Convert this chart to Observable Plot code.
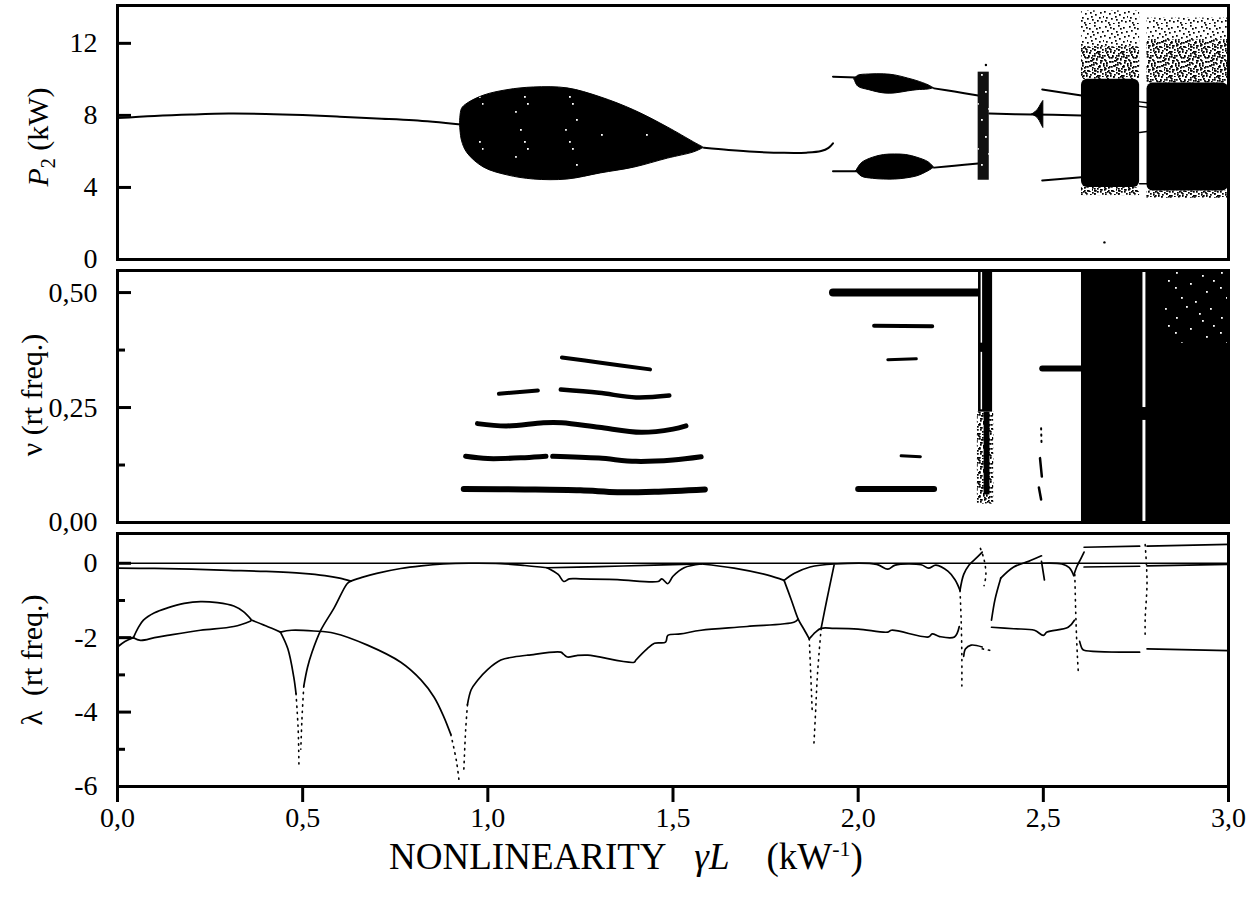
<!DOCTYPE html>
<html><head><meta charset="utf-8">
<script src="https://cdn.jsdelivr.net/npm/d3@7"></script>
<script src="https://cdn.jsdelivr.net/npm/@observablehq/plot@0.6"></script>
<style>
body{margin:0;background:#fff;font-family:"Liberation Serif","Times New Roman",serif;color:#000;}
#wrap{position:relative;width:1253px;height:908px;overflow:hidden;}
.panel{position:absolute;left:0;}
.ylab{position:absolute;transform:translate(-50%,-50%) rotate(-90deg);font-size:30px;white-space:nowrap;line-height:1;}
.xlab{position:absolute;transform:translateX(-50%);font-size:37px;white-space:nowrap;line-height:1;}
</style></head>
<body>
<svg id="defs" width="0" height="0" style="position:absolute;left:0;top:0"><defs></defs></svg>
<div id="wrap">
  <div class="ylab" style="left:40px;top:137px"><i>P</i><sub style="font-size:20px">2</sub>&nbsp;(kW)</div>
  <div class="ylab" style="left:32px;top:395px">ν (rt freq.)</div>
  <div class="ylab" style="left:32px;top:660px">λ&nbsp;&nbsp;(rt freq.)</div>
  <div class="xlab" style="left:626px;top:838px">NONLINEARITY&nbsp;&nbsp;&nbsp;<i>γL</i>&nbsp;&nbsp;&nbsp;&nbsp;(kW<sup style="font-size:22px">-1</sup>)</div>
</div>
<script>
// ---------------- DATA ----------------
const xTicks = [0, 0.5, 1.0, 1.5, 2.0, 2.5, 3.0];
const p2Ticks = [0, 4, 8, 12];
const nuTicks = [0, 0.25, 0.5];
const nuMinor = [0.125, 0.375];
const lamTicks = [0, -2, -4, -6];
const lamMinor = [-1, -3, -5];

// Panel 1: P2 (kW)  [x, P]
const p2Steady = [[0,7.85],[0.1,7.97],[0.2,8.05],[0.3,8.1],[0.4,8.08],[0.5,8.02],[0.6,7.93],[0.7,7.83],[0.8,7.73],[0.927,7.5]];
// [x, low, high]
const p2Blob = [[0.925,7.5,7.5],[0.93,6.6,8.35],[0.945,5.9,8.65],[0.99,5.1,9.1],[1.053,4.67,9.4],[1.125,4.44,9.55],[1.215,4.44,9.5],[1.305,4.78,9.0],[1.395,5.1,8.28],[1.486,5.6,7.33],[1.557,5.95,6.5],[1.584,6.2,6.2]];
const p2Tail = [[1.584,6.2],[1.65,6.08],[1.72,5.98],[1.8,5.92],[1.86,5.93],[1.9,6.02],[1.92,6.2],[1.932,6.45]];
const p2UpperIn = [[1.932,10.15],[1.995,10.1]];
const p2UpperBlob = [[1.99,10.0,10.0],[2.0,9.6,10.2],[2.03,9.4,10.27],[2.07,9.22,10.28],[2.1,9.22,10.22],[2.134,9.33,10.05],[2.16,9.4,9.9],[2.19,9.44,9.67],[2.205,9.5,9.5]];
const p2UpperOut = [[2.205,9.5],[2.26,9.32],[2.324,9.1]];
const p2LowerIn = [[1.932,4.9],[1.995,4.9]];
const p2LowerBlob = [[1.995,4.9,4.9],[2.01,4.6,5.35],[2.04,4.48,5.65],[2.07,4.44,5.8],[2.1,4.44,5.83],[2.13,4.5,5.8],[2.16,4.62,5.65],[2.19,4.9,5.4],[2.205,5.1,5.1]];
const p2LowerOut = [[2.205,5.1],[2.26,5.2],[2.324,5.33]];
const p2Mid = [[2.354,8.1],[2.47,8.05],[2.603,8.0]];
const p2Cusp = [[2.47,8.05,8.05],[2.485,7.85,8.3],[2.495,7.5,8.65],[2.5,7.3,8.8]];
const p2Upper2 = [[2.497,9.44],[2.603,9.1]];
const p2Lower2 = [[2.497,4.39],[2.603,4.56]];
const p2GapLines = [[[2.76,8.75],[2.78,8.7]],[[2.76,8.5],[2.78,8.45]],[[2.76,7.05],[2.78,7.1]],[[2.76,4.2],[2.78,4.2]]];
// chaotic regions [x1, x2, y1, y2]
const p2Band = [[2.324,2.354,4.4,10.4]];
const p2Dense = [[2.603,2.76,4.0,10.0],[2.78,3.0,3.8,9.8]];
const p2Sparse = [[2.603,2.76,10.0,13.8],[2.78,3.0,9.8,13.4],[2.603,2.76,3.55,4.0],[2.78,3.0,3.4,3.8]];
const p2SparseInner = [[2.603,2.76,10.0,11.8],[2.78,3.0,9.8,12.2],[2.603,2.76,3.55,4.0],[2.78,3.0,3.4,3.8]];
const p2BlobHoles = [[0.975,0.99,5.2,9.0],[1.075,1.115,5.0,9.3],[1.21,1.245,5.0,9.3],[1.305,1.315,5.5,8.8],[1.425,1.435,5.6,8.0]];
const p2Stray = [[2.665,0.95],[2.345,10.8]];

// Panel 2: nu (rt freq.)  [x, nu]
const nuBand1 = [[0.935,0.073],[1.1,0.072],[1.25,0.07],[1.35,0.066],[1.45,0.067],[1.586,0.072]];
const nuBand2a = [[0.94,0.144],[1.0,0.139],[1.1,0.141],[1.157,0.144]];
const nuBand2b = [[1.175,0.144],[1.3,0.14],[1.4,0.133],[1.5,0.136],[1.576,0.143]];
const nuBand3 = [[0.972,0.215],[1.05,0.21],[1.15,0.217],[1.2,0.217],[1.3,0.207],[1.414,0.196],[1.5,0.203],[1.535,0.21]];
const nuBand4a = [[1.03,0.28],[1.135,0.287]];
const nuBand4b = [[1.197,0.289],[1.3,0.282],[1.4,0.272],[1.49,0.276]];
const nuBand5 = [[1.2,0.359],[1.3,0.348],[1.438,0.333]];
const nuBand6 = [[1.932,0.5],[2.324,0.5]];
const nuBand7 = [[2.043,0.428],[2.2,0.427]];
const nuBand8 = [[2.08,0.354],[2.157,0.356]];
const nuBand9 = [[2.116,0.145],[2.168,0.143]];
const nuBand10 = [[2.0,0.073],[2.205,0.073]];
const nuBand11 = [[2.497,0.335],[2.603,0.335]];
const nuDash = [[[2.491,0.14],[2.496,0.1]],[[2.488,0.076],[2.494,0.05]]];
const nuDots = [[2.494,0.205],[2.495,0.175]];
const nuBlack = [[2.325,2.363,0.24,0.548],[2.603,3.0,0,0.548],[2.34,2.356,0.06,0.24]];
const nuSpeck = [[2.322,2.366,0.04,0.24]];
const nuWhite = [[2.769,2.777,0.25,0.548],[2.769,2.777,0,0.222],[2.332,2.336,0.39,0.548],[2.332,2.336,0.245,0.37]];
const nuWhiteSpeck = [[2.83,3.0,0.39,0.548]];

// Panel 3: lambda (rt freq.)  [x, lambda]
const lamTop1 = [[0,-0.13],[0.1,-0.14],[0.2,-0.16],[0.3,-0.19],[0.4,-0.22],[0.5,-0.27],[0.56,-0.33],[0.6,-0.4],[0.63,-0.48]];
const lamTop2 = [[0.63,-0.48],[0.66,-0.38],[0.7,-0.27],[0.765,-0.14],[0.82,-0.07],[0.88,-0.02],[0.95,0],[1.035,-0.01],[1.1,-0.06],[1.16,-0.12]];
const lamDip1 = [[1.16,-0.12],[1.19,-0.3],[1.205,-0.49],[1.22,-0.42],[1.25,-0.42],[1.35,-0.44],[1.46,-0.49],[1.47,-0.42],[1.486,-0.55],[1.5,-0.35],[1.53,-0.12],[1.576,-0.02]];
const lamTop3 = [[1.16,-0.12],[1.3,-0.09],[1.45,-0.05],[1.576,-0.02]];
const lamTop4 = [[1.576,-0.02],[1.665,-0.13],[1.756,-0.32],[1.8,-0.46]];
const lamTop5 = [[1.8,-0.46],[1.828,-0.27],[1.87,-0.1],[1.935,-0.02],[2.05,-0.03],[2.08,-0.16],[2.1,-0.05],[2.17,-0.04],[2.19,-0.13],[2.21,-0.05],[2.243,-0.22],[2.262,-0.45],[2.275,-0.73]];
const lamUp1 = [[2.275,-0.73],[2.285,-0.3],[2.3,-0.04],[2.32,0.15],[2.335,0.3]];
const lamUp2 = [[2.36,-1.53],[2.37,-0.95],[2.385,-0.4]];
const lamUp3 = [[2.385,-0.4],[2.42,-0.1],[2.46,0.05],[2.495,0.2]];
const lamTop6 = [[2.495,0.0],[2.55,-0.02],[2.57,-0.12],[2.582,-0.33]];
const lamUp4 = [[2.582,-0.33],[2.59,-0.1],[2.6,0.1],[2.61,0.3]];
const lamTick = [[2.495,0.05],[2.503,-0.45]];
const lamLoopUpper = [[0.043,-2.0],[0.055,-1.75],[0.07,-1.53],[0.1,-1.33],[0.135,-1.2],[0.18,-1.08],[0.224,-1.03],[0.27,-1.06],[0.314,-1.15],[0.34,-1.3],[0.36,-1.5]];
const lamLoopLower = [[0.043,-2.0],[0.062,-2.07],[0.1,-2.0],[0.135,-1.94],[0.224,-1.8],[0.314,-1.7],[0.36,-1.55]];
const lamLeft1 = [[0,-2.0],[0.043,-2.0]];
const lamLeft2 = [[0,-2.25],[0.02,-2.1],[0.043,-2.0]];
const lamMid1 = [[0.36,-1.52],[0.4,-1.68],[0.44,-1.85]];
const lamArc = [[0.44,-1.85],[0.47,-1.8],[0.53,-1.82],[0.585,-1.88],[0.675,-2.2],[0.765,-2.66],[0.82,-3.14],[0.855,-3.6],[0.88,-4.1],[0.9,-4.6]];
const lamArcDots = [[0.9,-4.6],[0.915,-5.3],[0.923,-5.9]];
const lamVLeft = [[0.44,-1.85],[0.46,-2.3],[0.476,-3.06],[0.482,-3.5]];
const lamVLeftDots = [[0.482,-3.5],[0.488,-4.5],[0.49,-5.5]];
const lamVRight = [[0.63,-0.48],[0.62,-0.55],[0.585,-1.2],[0.549,-1.8],[0.525,-2.4],[0.513,-2.8],[0.503,-3.3]];
const lamVRightDots = [[0.503,-3.3],[0.498,-4.2],[0.495,-5.0]];
const lamRise = [[0.945,-3.8],[0.955,-3.4],[0.972,-3.15],[1.0,-2.85],[1.035,-2.6],[1.07,-2.52],[1.108,-2.47],[1.197,-2.39],[1.205,-2.45],[1.215,-2.52],[1.24,-2.48],[1.27,-2.47],[1.395,-2.66],[1.4,-2.6],[1.43,-2.3],[1.45,-2.15],[1.48,-2.12],[1.486,-1.94],[1.52,-1.9],[1.576,-1.8],[1.7,-1.7],[1.828,-1.58],[1.838,-1.5]];
const lamRiseDots = [[0.945,-3.8],[0.94,-4.5],[0.935,-5.6]];
const lamCross1 = [[1.8,-0.46],[1.82,-1.0],[1.838,-1.5],[1.855,-1.8],[1.868,-2.03]];
const lamCross1Dots = [[1.868,-2.03],[1.872,-3.0],[1.876,-4.0]];
const lamVert = [[1.935,-0.05],[1.932,-0.19],[1.915,-1.0],[1.9,-1.75]];
const lamVertDots = [[1.9,-1.75],[1.89,-3.0],[1.885,-4.0],[1.88,-4.95]];
const lamLower2 = [[1.868,-2.03],[1.885,-1.85],[1.9,-1.75],[1.935,-1.75],[2.0,-1.77],[2.08,-1.85],[2.09,-1.8],[2.19,-1.98],[2.2,-1.9],[2.22,-1.97],[2.26,-1.98],[2.273,-1.7]];
const lamDots2275 = [[2.275,-0.73],[2.278,-1.5],[2.28,-2.5],[2.28,-3.3]];
const lamSmall = [[2.285,-2.5],[2.29,-2.3],[2.305,-2.2],[2.335,-2.25]];
const lamSmallDots = [[2.335,-2.3],[2.36,-2.35]];
const lamScatter233 = [[2.33,0.4],[2.34,0.1],[2.345,-0.3],[2.34,-0.6]];
const lamLower3 = [[2.36,-1.72],[2.42,-1.76],[2.476,-1.8],[2.5,-1.94],[2.51,-1.85],[2.567,-1.72],[2.584,-1.53]];
const lamDots2585 = [[2.585,-0.3],[2.588,-1.5],[2.592,-2.5],[2.595,-3.0]];
const lamRightA = [[2.61,0.43],[2.76,0.46]];
const lamRightB = [[2.78,0.46],[3.0,0.51]];
const lamRightC = [[2.61,-0.1],[2.76,-0.08]];
const lamRightD = [[2.78,-0.07],[3.0,-0.03]];
const lamRightE = [[2.598,-2.1],[2.605,-2.3],[2.61,-2.34],[2.76,-2.39]];
const lamRightF = [[2.78,-2.3],[3.0,-2.35]];
const lamGapDots = [[2.775,0.5],[2.78,-0.5],[2.775,-1.5],[2.775,-2.0]];

// ---------------- STYLE HELPERS ----------------
const SPECK = [[1,2],[5,0],[9,4],[14,1],[19,3],[22,7],[3,6],[7,9],[12,7],[17,8],[0,11],[5,13],[10,12],[15,14],[20,12],[23,16],[2,17],[7,18],[12,19],[17,20],[21,21],[4,22],[9,23],[14,22],[19,17],[11,16],[16,4],[6,3],[1,20],[13,10]];
const SPECK_FEW = [[3,2],[29,5],[17,13],[33,21],[8,27],[22,31],[13,36],[37,38],[2,17],[26,43],[40,10]];
function pattern(id, color, tf, s, pts = SPECK, size = 24) {
  const rects = pts.map(([x,y]) => `<rect x="${x}" y="${y}" width="${s}" height="${s}" fill="${color}"/>`).join("");
  return `<pattern id="${id}" width="${size}" height="${size}" patternUnits="userSpaceOnUse" patternTransform="${tf}">${rects}</pattern>`;
}
document.querySelector("#defs defs").innerHTML =
  pattern("spA", "#000", "translate(0,0)", 1.7) +
  pattern("spB", "#000", "translate(7,11)", 1.7) +
  pattern("spC", "#000", "translate(13,5)", 1.7) +
  pattern("spW", "#fff", "translate(3,8)", 1.8, SPECK_FEW, 45);

const L = (data, o = {}) => Plot.line(data, {stroke: "#000", strokeWidth: 1.8, curve: "catmull-rom", ...o});
const D = (data, o = {}) => Plot.line(data, {stroke: "#000", strokeWidth: 1.6, strokeDasharray: "1.3 5", curve: "catmull-rom", ...o});
const A = (data) => Plot.areaY(data, {x: d => d[0], y1: d => d[1], y2: d => d[2], fill: "#000", stroke: "#000", strokeWidth: 1, curve: "catmull-rom"});
const R = (data, fill, o = {}) => Plot.rect(data, {x1: d => d[0], x2: d => d[1], y1: d => d[2], y2: d => d[3], fill, ...o});
const fmtComma = n => d => d.toFixed(n).replace(".", ",");

function panel({yDomain, majors, minors, fmt, marks, height, mt, mb, xaxis}) {
  return Plot.plot({
    width: 1253, height, marginLeft: 117, marginRight: 25, marginTop: mt, marginBottom: mb,
    x: {domain: [0, 3], axis: null},
    y: {domain: yDomain},
    style: {fontFamily: "'Liberation Serif', 'Times New Roman', serif", fontSize: "28px", color: "#000", background: "transparent", overflow: "visible"},
    marks: [
      ...marks,
      Plot.axisY(majors, {tickSize: -14, strokeWidth: 3, tickPadding: 34, tickFormat: fmt, label: null, fontSize: 28}),
      minors ? Plot.axisY(minors, {tickSize: -8, strokeWidth: 3, tickFormat: () => "", label: null}) : null,
      xaxis ? Plot.axisX(xTicks, {tickSize: 16, strokeWidth: 3, tickPadding: 5, tickFormat: fmtComma(1), label: null, fontSize: 28}) : null,
      Plot.frame({stroke: "#000", strokeWidth: 3})
    ]
  });
}

const p1 = panel({
  yDomain: [0, 14.1], majors: p2Ticks, minors: null, fmt: d => String(d), height: 262, mt: 5, mb: 3,
  marks: [
    L(p2Steady, {strokeWidth: 2}), A(p2Blob), R(p2BlobHoles, "url(#spW)"), L(p2Tail, {strokeWidth: 2}),
    L(p2UpperIn, {strokeWidth: 2}), A(p2UpperBlob), L(p2UpperOut, {strokeWidth: 2}),
    L(p2LowerIn, {strokeWidth: 2}), A(p2LowerBlob), L(p2LowerOut, {strokeWidth: 2}),
    L(p2Mid, {strokeWidth: 2}), A(p2Cusp), L(p2Upper2, {strokeWidth: 2}), L(p2Lower2, {strokeWidth: 2}),
    ...p2GapLines.map(g => L(g, {strokeWidth: 1.5})),
    R(p2Band, "#111"), R(p2Band, "url(#spW)"),
    R(p2Dense, "#000", {rx: 6}),
    R(p2Sparse, "url(#spA)"), R(p2SparseInner, "url(#spB)"), R(p2SparseInner, "url(#spC)"),
    Plot.dot(p2Stray, {r: 1.2, fill: "#000"})
  ]
});

const nuBands = [nuBand1, nuBand2a, nuBand2b, nuBand3, nuBand4a, nuBand4b, nuBand5, nuBand6, nuBand7, nuBand8, nuBand9, nuBand10, nuBand11];
const nuWidths = [6, 5, 5, 5, 4, 4.5, 4, 8, 4, 3, 3, 6, 6];
const p2p = panel({
  yDomain: [0, 0.548], majors: nuTicks, minors: nuMinor, fmt: fmtComma(2), height: 263, mt: 8, mb: 3,
  marks: [
    ...nuBands.map((b, i) => L(b, {strokeWidth: nuWidths[i], strokeLinecap: "round"})),
    ...nuDash.map(g => L(g, {strokeWidth: 2.5, strokeLinecap: "round"})),
    D(nuDots, {strokeWidth: 2}),
    R(nuSpeck, "url(#spA)"), R(nuSpeck, "url(#spB)"), R(nuSpeck, "url(#spC)"),
    R(nuBlack, "#000"), R(nuWhite, "#fff"), R(nuWhiteSpeck, "url(#spW)")
  ]
});

const lamSolid = [lamTop1, lamTop2, lamDip1, lamTop3, lamTop4, lamTop5, lamUp1, lamUp2, lamUp3, lamTop6, lamUp4, lamTick,
  lamLoopUpper, lamLoopLower, lamLeft1, lamLeft2, lamMid1, lamArc, lamVLeft, lamVRight, lamRise, lamCross1, lamVert,
  lamLower2, lamSmall, lamLower3, lamRightA, lamRightB, lamRightC, lamRightD, lamRightE, lamRightF];
const lamDotted = [lamArcDots, lamVLeftDots, lamVRightDots, lamRiseDots, lamCross1Dots, lamVertDots, lamDots2275, lamSmallDots, lamScatter233, lamDots2585, lamGapDots];
const p3 = panel({
  yDomain: [-6, 0.8], majors: lamTicks, minors: lamMinor, fmt: d => String(d), height: 321, mt: 8, mb: 60, xaxis: true,
  marks: [
    Plot.ruleY([0], {stroke: "#000", strokeWidth: 1.3}),
    ...lamSolid.map(c => L(c, {strokeWidth: 1.7})),
    ...lamDotted.map(c => D(c))
  ]
});

const wrap = document.getElementById("wrap");
[[p1, 0], [p2p, 262], [p3, 525]].forEach(([svg, top]) => {
  svg.classList.add("panel");
  svg.style.top = top + "px";
  wrap.insertBefore(svg, wrap.firstChild);
});
</script>
</body></html>
